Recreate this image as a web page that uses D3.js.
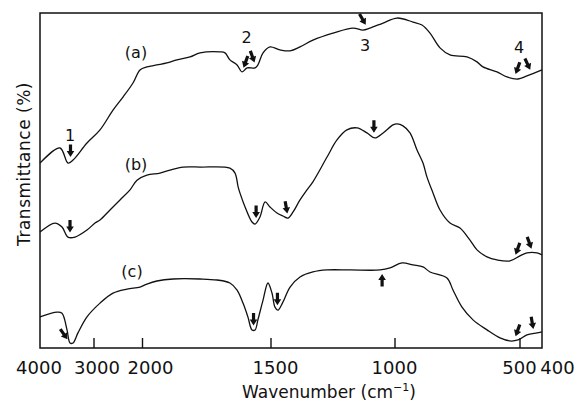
<!DOCTYPE html>
<html>
<head>
<meta charset="utf-8">
<script src="https://cdn.jsdelivr.net/npm/d3@7"></script>
<style>
  html, body { margin: 0; padding: 0; background: #fff; }
  svg text { font-family: "DejaVu Sans", sans-serif; fill: #111; }
</style>
</head>
<body>
<svg id="chart" width="578" height="403"></svg>
<script>
// Wavenumber ticks (cm^-1); the axis changes scale at 2000
const tickValues = [4000, 3000, 2000, 1500, 1000, 500, 400];

// Spectrum (a)
const waveA = [4000,3626,3477,3383,3122,2866,2598,2392,2186,2041,1981,1942,1903,1864,1813,1774,1696,1677,1658,1630,1611,1591,1560,1549,1529,1502,1462,1421,1381,1329,1248,1167,1127,1099,1046,990,926,890,858,818,778,710,670,646,590,550,506,467,400];
const transA = [55.2,59.7,55.2,56.1,61.2,65.1,71.0,74.9,79.1,83.0,83.9,84.5,85.1,86.0,86.9,88.1,88.4,88.1,86.0,84.5,82.4,83.6,83.6,84.5,88.1,89.9,89.0,88.7,89.9,91.9,94.0,95.5,94.9,95.5,97.0,98.5,97.3,96.4,94.0,89.6,87.5,86.9,85.4,83.9,82.4,80.9,80.3,81.2,83.0];

// Spectrum (b)
const waveB = [4000,3720,3589,3477,3346,3122,2969,2866,2660,2454,2247,2103,1981,1930,1891,1840,1774,1658,1638,1626,1619,1599,1572,1560,1541,1521,1502,1474,1450,1429,1409,1381,1353,1329,1272,1232,1192,1151,1111,1079,1046,1006,990,966,938,910,886,870,846,818,778,738,698,670,630,590,538,498,467,422,400];
const transB = [34.6,37.3,36.1,33.1,33.1,35.2,37.3,38.2,41.2,44.2,47.2,50.1,51.6,52.2,53.1,54.0,54.0,53.7,52.2,48.1,46.3,42.1,37.6,37.0,39.1,43.6,42.1,40.3,39.4,38.8,40.6,44.2,47.2,49.6,57.0,62.1,65.1,65.7,64.2,62.7,64.2,66.6,66.9,66.3,64.2,59.1,55.2,51.0,46.3,41.2,37.3,35.8,32.2,29.3,27.2,26.3,26.0,27.5,28.4,28.4,27.8];

// Spectrum (c)
const waveC = [4000,3682,3589,3495,3439,3383,3290,3122,2866,2598,2309,2041,1981,1942,1879,1774,1708,1658,1630,1607,1588,1572,1560,1549,1529,1510,1494,1482,1470,1450,1421,1381,1329,1272,1179,1058,1018,970,926,886,858,790,766,730,686,630,578,538,506,467,422,400];
const transC = [9.3,10.7,10.4,5.4,1.5,1.5,4.5,9.3,13.4,16.4,17.6,18.2,19.1,20.0,20.6,20.6,20.3,19.4,17.3,13.4,9.3,5.4,5.4,8.4,14.3,19.4,16.4,12.2,11.3,13.7,18.2,21.2,22.7,23.3,23.3,23.3,23.9,25.4,24.8,24.2,22.7,20.9,17.3,12.2,8.4,5.4,3.0,2.1,2.4,3.9,4.5,4.8];

// Marked bands: wavenumber pointed at, and arrow tilt in degrees (180 = pointing up)
const arrowWaveA = [3430, 1611, 1556, 1107, 522, 444];
const arrowTiltA = [0, 20, -20, -30, 20, -25];
const arrowWaveB = [3439, 1556, 1429, 1083, 522, 440];
const arrowTiltB = [0, 0, -10, 0, 20, -20];
const arrowWaveC = [3439, 1566, 1472, 1050, 522, 435];
const arrowTiltC = [-35, 0, 0, 180, 20, -10];

// Band numbers written on spectrum (a)
const bandNames = ["1", "2", "3", "4"];
const bandWave = [3439, 1593, 1119, 502];
const bandTrans = [61.8, 91.0, 88.7, 88.1];

// Spectrum names
const seriesNames = ["(a)", "(b)", "(c)"];
const seriesLabelWave = [2124, 2124, 2206];
const seriesLabelTrans = [86.6, 53.1, 21.2];

const svg = d3.select("#chart");
const plot = {left: 40, right: 542, top: 13, bottom: 348};

const x = d3.scaleLinear()
  .domain(tickValues)
  .range([plot.left, 93.5, 142, 270.5, 394.5, 519.5, plot.right]);
const y = d3.scaleLinear().domain([0, 100]).range([plot.bottom, plot.top]);

const ink = "#111";

// frame
svg.append("rect")
  .attr("x", plot.left).attr("y", plot.top)
  .attr("width", plot.right - plot.left).attr("height", plot.bottom - plot.top)
  .attr("fill", "none").attr("stroke", ink).attr("stroke-width", 1.5);

// bottom axis with inward ticks
const labelShift = {4000: -1.5, 3000: 3, 2000: 8, 1500: 4.5, 1000: -0.5, 500: -0.5, 400: 15};
const axis = d3.axisBottom(x)
  .tickValues(tickValues)
  .tickSizeInner(-10)
  .tickSizeOuter(0)
  .tickPadding(13)
  .tickFormat(d3.format("d"));
const gx = svg.append("g").attr("transform", `translate(0,${plot.bottom})`).call(axis);
gx.select(".domain").remove();
gx.selectAll(".tick line").attr("stroke", ink).attr("stroke-width", 1.4)
  .attr("display", d => (d === 4000 || d === 400) ? "none" : null);
gx.selectAll(".tick text")
  .attr("font-family", "DejaVu Sans, sans-serif")
  .attr("font-size", 18).attr("fill", ink)
  .attr("dx", d => labelShift[d]);

// axis titles
const xt = svg.append("text")
  .attr("x", 329).attr("y", 398)
  .attr("text-anchor", "middle").attr("font-size", 17);
xt.append("tspan").text("Wavenumber (cm");
xt.append("tspan").text("\u22121").attr("font-size", 11).attr("dy", -7);
xt.append("tspan").text(")").attr("dy", 7);

svg.append("text")
  .attr("transform", "translate(30,164) rotate(-90)")
  .attr("text-anchor", "middle")
  .attr("font-size", 17)
  .attr("letter-spacing", 0.5)
  .text("Transmittance (%)");

// spectra
const spectra = [
  {wave: waveA, trans: transA, arrows: arrowWaveA, tilts: arrowTiltA},
  {wave: waveB, trans: transB, arrows: arrowWaveB, tilts: arrowTiltB},
  {wave: waveC, trans: transC, arrows: arrowWaveC, tilts: arrowTiltC}
];

const line = d3.line()
  .x(d => x(d[0]))
  .y(d => y(d[1]))
  .curve(d3.curveCatmullRom.alpha(0.5));

spectra.forEach(s => {
  svg.append("path")
    .datum(d3.zip(s.wave, s.trans))
    .attr("d", line)
    .attr("fill", "none")
    .attr("stroke", ink)
    .attr("stroke-width", 1.3)
    .attr("stroke-linejoin", "round");
});

// pixel height of a spectrum at a given wavenumber
function curvePixelY(s, w) {
  const px = x(w);
  for (let i = 0; i < s.wave.length - 1; i++) {
    const x0 = x(s.wave[i]), x1 = x(s.wave[i + 1]);
    if (px >= x0 && px <= x1) {
      const f = (px - x0) / (x1 - x0);
      return y(s.trans[i]) + f * (y(s.trans[i + 1]) - y(s.trans[i]));
    }
  }
  return y(s.trans[s.trans.length - 1]);
}

// filled arrow, tip at origin, pointing down
const arrowShape = "M0,0 L-3.8,-6 L-1.6,-6 L-1.6,-12.5 L1.6,-12.5 L1.6,-6 L3.8,-6 Z";
const gap = 4.5;
spectra.forEach(s => {
  s.arrows.forEach((w, i) => {
    const tilt = s.tilts[i];
    const r = tilt * Math.PI / 180;
    const dx = -Math.sin(r), dy = Math.cos(r);
    const px = x(w), py = curvePixelY(s, w);
    const tx = px - gap * dx, ty = py - gap * dy;
    svg.append("path")
      .attr("d", arrowShape)
      .attr("transform", `translate(${tx},${ty}) rotate(${tilt})`)
      .attr("fill", ink);
  });
});

// band numbers
svg.selectAll("text.band")
  .data(bandNames)
  .join("text")
  .attr("class", "band")
  .attr("x", (d, i) => x(bandWave[i]))
  .attr("y", (d, i) => y(bandTrans[i]))
  .attr("text-anchor", "middle")
  .attr("font-size", 16)
  .text(d => d);

// spectrum names
svg.selectAll("text.series")
  .data(seriesNames)
  .join("text")
  .attr("class", "series")
  .attr("x", (d, i) => x(seriesLabelWave[i]))
  .attr("y", (d, i) => y(seriesLabelTrans[i]))
  .attr("text-anchor", "middle")
  .attr("font-size", 16)
  .text(d => d);
</script>
</body>
</html>
